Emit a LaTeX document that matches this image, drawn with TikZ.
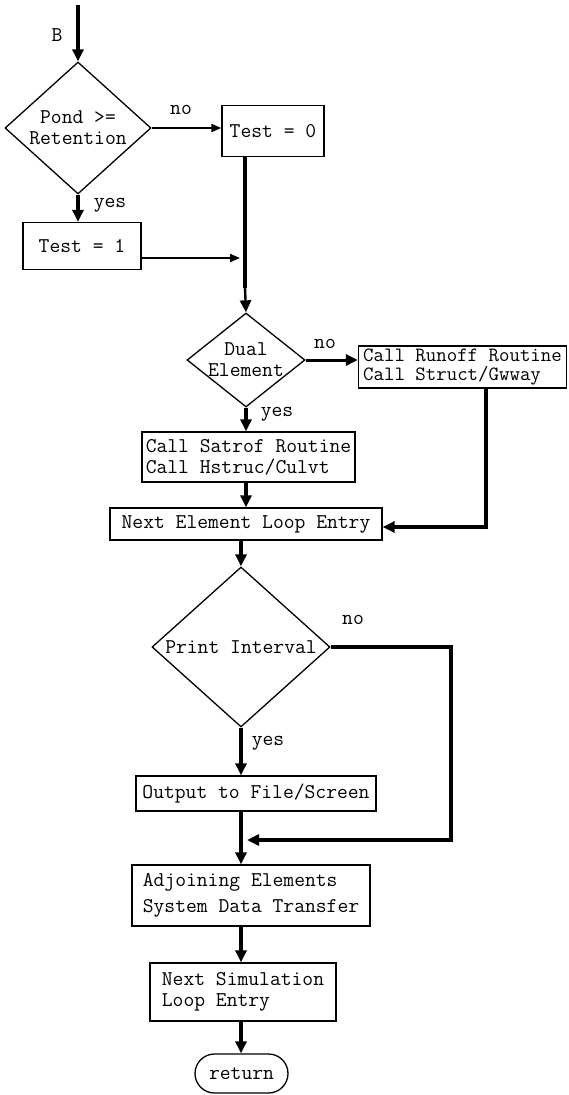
\documentclass[tikz,border=0pt]{standalone}
\usetikzlibrary{shapes.geometric,shapes.misc,arrows.meta}
\begin{document}
\begin{tikzpicture}[x=1pt,y=-1pt,
  font=\ttfamily\fontsize{21}{21}\selectfont,
  box/.style={draw, line width=1.3pt, inner sep=3pt, align=left},
  dia/.style={diamond, draw, line width=1.3pt, inner sep=0pt},
  term/.style={rounded rectangle, draw, line width=1.3pt, inner sep=0pt},
  flow/.style={line width=3.6pt, -{Triangle[length=12pt,width=11pt]}},
  slim/.style={line width=2pt, -{Triangle[length=10pt,width=8pt]}},
  trunk/.style={line width=3.6pt},
  lbl/.style={inner sep=0pt}]
\fill[white] (0,0) rectangle (568,1095);
\useasboundingbox (0,0) rectangle (568,1095);

% decision and process blocks
\node[dia, minimum width=146pt, minimum height=132pt,
      label={[align=center]center:Pond >=\\Retention}] (d1) at (78,128) {};
\node[box, minimum width=102pt, minimum height=51pt] (t0) at (273,131) {Test = 0};
\node[box, minimum width=118pt, minimum height=47pt] (t1) at (82,246) {Test = 1};
\node[dia, minimum width=118pt, minimum height=94pt,
      label={[align=center]center:Dual\\Element}] (d2) at (246,360) {};
\node[box, minimum width=208pt, minimum height=42pt, inner sep=1pt,
      font=\ttfamily\fontsize{20.3}{19}\selectfont]
      (rn) at (462.5,367) {Call Runoff Routine\\Call Struct/Gwway};
\node[box, minimum width=213pt, minimum height=50pt]
      (sa) at (248.5,457) {Call Satrof Routine\\Call Hstruc/Culvt};
\node[box, minimum width=272pt, minimum height=32pt] (ne) at (246,524) {Next Element Loop Entry};
\node[dia, minimum width=178pt, minimum height=160pt,
      label={center:Print Interval}] (d3) at (241,647) {};
\node[box, minimum width=240pt, minimum height=35pt] (op) at (256,793.5) {Output to File/Screen};
\node[box, minimum width=238pt, minimum height=61pt]
      (ad) at (251,895.5) {Adjoining Elements\\[5pt]System Data Transfer};
\node[box, minimum width=186pt, minimum height=58pt]
      (ns) at (243,992) {Next Simulation\\Loop Entry};
\node[term, minimum width=93pt, minimum height=39pt] (ret) at (241.5,1073.5) {return};

% branch labels
\node[lbl] (lb) at (57,35) {B};
\node[lbl] (no1) at (181,110) {no};
\node[lbl] (yes1) at (110,205) {yes};
\node[lbl] (no2) at (325,344) {no};
\node[lbl] (yes2) at (277,414) {yes};
\node[lbl] (no3) at (353,620) {no};
\node[lbl] (yes3) at (268,743) {yes};

% junction points
\coordinate (start) at (78,5);
\coordinate (m) at (245,288);
\coordinate (j1) at (240,258);
\coordinate (rc) at (486,527);
\coordinate (pc) at (451,840);
\coordinate (jn) at (247,840);

% connectors
\draw[flow] (start) -- (d1.north);
\draw[slim] (d1.east) -- (d1.east -| t0.west);
\draw[flow] (d1.south) -- (d1.south |- t1.north);
\draw[trunk] (m |- t0.south) -- (m);
\draw[slim] (t1.east |- j1) -- (j1);
\draw[flow, line width=2.4pt] (m) -- (d2.north);
\draw[flow, line width=3pt] (d2.east) -- (d2.east -| rn.west);
\draw[flow] (d2.south) -- (d2.south |- sa.north);
\draw[flow] (d2.south |- sa.south) -- (d2.south |- ne.north);
\draw[flow] (rc |- rn.south) -- (rc) -- (rc -| ne.east);
\draw[flow] (d3.north |- ne.south) -- (d3.north);
\draw[flow] (d3.south) -- (d3.south |- op.north);
\draw[flow] (d3.east) -| (pc) -- (jn);
\draw[flow] (d3.south |- op.south) -- (d3.south |- ad.north);
\draw[flow] (d3.south |- ad.south) -- (d3.south |- ns.north);
\draw[flow] (d3.south |- ns.south) -- (d3.south |- ret.north);
\end{tikzpicture}
\end{document}
